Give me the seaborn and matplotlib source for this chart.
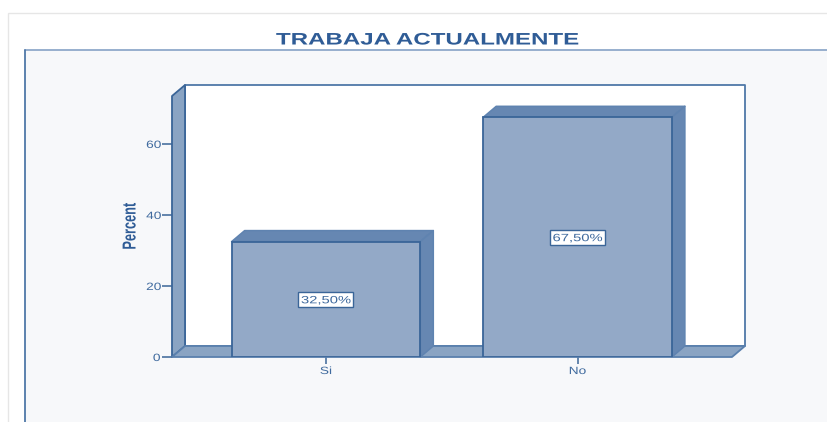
import matplotlib
matplotlib.use("Agg")
import matplotlib.pyplot as plt
from matplotlib.lines import Line2D
from matplotlib.patches import Polygon, Rectangle
from matplotlib.patheffects import AbstractPathEffect
from matplotlib.transforms import Affine2D
import pandas as pd
import seaborn as sns

categories = ["Si", "No"]
percent = [32.5, 67.5]
labels = ["32,50%", "67,50%"]
yticks = [0, 20, 40, 60]
title = "TRABAJA ACTUALMENTE"
ylabel = "Percent"

W, H = 827, 422
EDGE = "#3a6598"
TEXT = "#3f6a9e"
FRONT = "#93a9c7"
SIDE = "#6687b2"
WALL = "#8aa4c3"
PANEL = "#f7f8fa"


class Stretch(AbstractPathEffect):
    """Draws a real text object scaled anisotropically about its own centre."""

    def __init__(self, sx=1.0, sy=1.0):
        super().__init__()
        self.sx, self.sy = sx, sy

    def draw_path(self, renderer, gc, tpath, affine, rgbFace=None):
        e = tpath.get_extents(affine)
        cx, cy = (e.x0 + e.x1) / 2, (e.y0 + e.y1) / 2
        a = affine + Affine2D().translate(-cx, -cy).scale(self.sx, self.sy).translate(cx, cy)
        renderer.draw_path(gc, tpath, a, rgbFace)


sns.set_theme(style="white")
plt.rcParams["font.family"] = ["Liberation Sans", "DejaVu Sans"]

fig = plt.figure(figsize=(W / 100, H / 100), dpi=100, facecolor="white")
# page frame and panel
fig.add_artist(Rectangle((8 / W, -0.1), 1, 1 - 13.5 / H + 0.1, transform=fig.transFigure,
                         fc="white", ec="#e6e6e6", lw=1, zorder=-3))
fig.add_artist(Rectangle((25 / W, -0.1), 1, 1 - 50 / H + 0.1, transform=fig.transFigure,
                         fc=PANEL, ec="none", zorder=-2))
fig.add_artist(Line2D([25 / W, 1], [1 - 50 / H] * 2, transform=fig.transFigure,
                      color="#8fa9ca", lw=1.3, zorder=-1))
fig.add_artist(Line2D([25 / W] * 2, [0, 1 - 50 / H], transform=fig.transFigure,
                      color="#4f78a8", lw=1.3, zorder=-1))
fig.text(427 / W, 1 - 40 / H, title, ha="center", va="center", color="#2f5c96",
         fontsize=12, fontweight="bold", path_effects=[Stretch(sx=1.445)])

ax = fig.add_axes([172 / W, 1 - 357 / H, (732 - 172) / W, (357 - 96) / H])
df = pd.DataFrame({"cat": categories, "pct": percent})
sns.barplot(data=df, x="cat", y="pct", ax=ax, color=FRONT, saturation=1, width=0.75,
            edgecolor=EDGE, linewidth=1.3, zorder=5)
ax.set_xlim(-0.612, 1.614)
ax.set_ylim(0, 73.5)
ax.patch.set_alpha(0)

# depth of the 3D effect, in data units (13 px across, 11 px up)
dx = 13 / 251.5
dy = 11 / (261 / 73.5)
x0, x1 = ax.get_xlim()
y0, y1 = ax.get_ylim()


def poly(pts, fc, z, ec=EDGE, lw=1.3):
    ax.add_patch(Polygon(pts, closed=True, fc=fc, ec=ec, lw=lw, zorder=z, clip_on=False,
                         joinstyle="round"))


bars = list(ax.patches[:2])
poly([(x0 + dx, y0 + dy), (x1 + dx, y0 + dy), (x1 + dx, y1 + dy), (x0 + dx, y1 + dy)], "white", 1, ec="#4f78a8")
poly([(x0, y0), (x0 + dx, y0 + dy), (x0 + dx, y1 + dy), (x0, y1)], WALL, 2)
poly([(x0, y0), (x1, y0), (x1 + dx, y0 + dy), (x0 + dx, y0 + dy)], WALL, 2, ec="#5a80ad")

for bar, lab in zip(bars, labels):
    l, b, w, h = bar.get_x(), bar.get_y(), bar.get_width(), bar.get_height()
    r, t = l + w, b + h
    poly([(l, t), (r, t), (r + dx, t + dy), (l + dx, t + dy)], SIDE, 4, ec="#5f83b0", lw=1.1)
    poly([(r, b), (r + dx, b + dy), (r + dx, t + dy), (r, t)], SIDE, 4, ec="#5f83b0", lw=1.1)
    px, py = ax.transData.transform((l + w / 2, t / 2))
    ax.add_patch(Rectangle((-27.5, -7.5), 55, 15, transform=Affine2D().translate(px, py),
                           fc="white", ec=EDGE, lw=1, zorder=6, clip_on=False))
    ax.text(l + w / 2, t / 2, lab, ha="center", va="center_baseline", color=TEXT, fontsize=7.6,
            zorder=7, path_effects=[Stretch(sx=1.4)])

for s in ax.spines.values():
    s.set_visible(False)
ax.set_yticks(yticks)
ax.set_xticks(range(len(categories)), categories)
ax.tick_params(axis="both", width=1.1, color=EDGE, labelcolor=TEXT, labelsize=7.6,
               bottom=True, left=True)
ax.tick_params(axis="x", length=5, pad=1.5)
ax.tick_params(axis="y", length=7.5, pad=1.5)
for t in ax.get_xticklabels() + ax.get_yticklabels():
    t.set_path_effects([Stretch(sx=1.3)])
ax.set_xlabel("")
ax.set_ylabel("")
fig.text(131 / W, 1 - 226.5 / H, ylabel, rotation=90, ha="center", va="center", color="#2f5c96",
         fontsize=13.5, fontweight="bold", path_effects=[Stretch(sy=0.68)])

fig.savefig("out.png", dpi=100, facecolor="white")
